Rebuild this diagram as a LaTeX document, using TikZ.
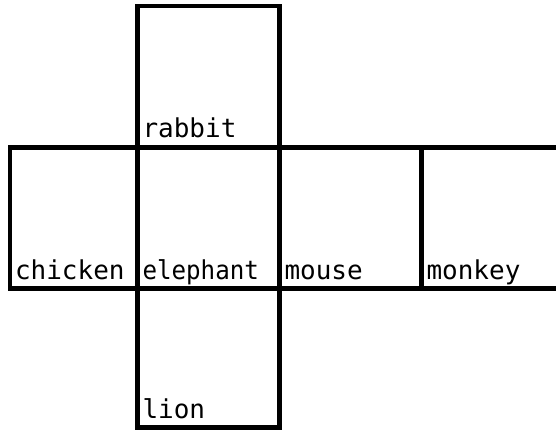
\documentclass[tikz,border=0pt]{standalone}
\usepackage{fontspec}
\newfontfamily\boxfont{DejaVu Sans Mono}
\begin{document}
\begin{tikzpicture}[x=1pt,y=-1pt,
  cell/.style={draw=black, line width=4.4pt, inner sep=0pt, outer sep=0pt,
    minimum width=142pt, minimum height=141pt},
  lab/.style={anchor=base west, inner sep=0pt, outer sep=0pt,
    font=\boxfont\fontsize{26}{30}\selectfont}]
\useasboundingbox (0,0) rectangle (556,430);
\clip (0,0) rectangle (556,430);
\node[cell, minimum height=141.5pt] (rabbit) at (208.5,76.75) {};
\node[cell, minimum width=127.5pt] (chicken) at (73.75,218) {};
\node[cell] (elephant) at (208.5,218) {};
\node[cell] (mouse) at (350.5,218) {};
\node[cell] (monkey) at (492.5,218) {};
\node[cell, minimum height=139pt] (lion) at (208.5,358) {};
\node[lab] (trabbit) at ([xshift=5pt,yshift=9.5pt]rabbit.south west) {rabbit};
\node[lab] (tchicken) at ([xshift=5pt,yshift=9.5pt]chicken.south west) {chicken};
\node[lab] (telephant) at ([xshift=5pt,yshift=9.5pt]elephant.south west) {\scalebox{0.93}[1]{elephant}};
\node[lab] (tmouse) at ([xshift=5pt,yshift=9.5pt]mouse.south west) {mouse};
\node[lab] (tmonkey) at ([xshift=5pt,yshift=9.5pt]monkey.south west) {monkey};
\node[lab] (tlion) at ([xshift=5pt,yshift=9.5pt]lion.south west) {lion};
\end{tikzpicture}
\end{document}
